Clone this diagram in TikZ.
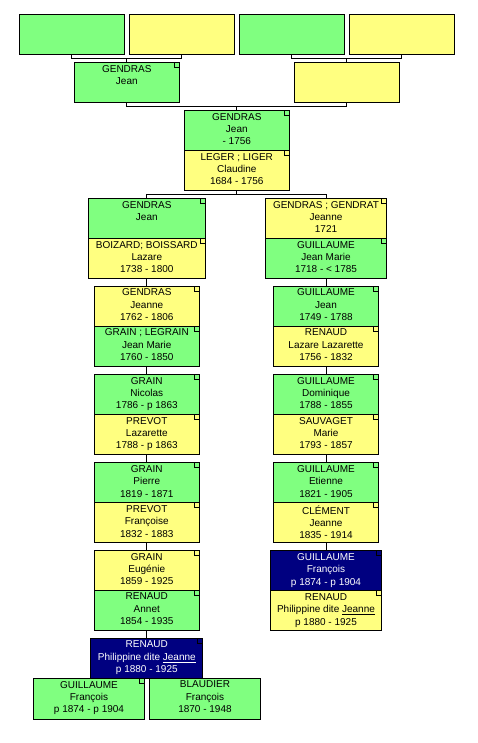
\documentclass[tikz,border=0pt]{standalone}
\usepackage{fontspec}
\setmainfont{Liberation Sans}
\usetikzlibrary{positioning}
\definecolor{mgreen}{RGB}{128,255,128}
\definecolor{fyellow}{RGB}{255,255,128}
\definecolor{selnavy}{RGB}{0,0,128}
\newcommand\persfont{\fontsize{10}{12.4}\selectfont}

\begin{document}
\begin{tikzpicture}[x=1pt,y=-1pt,line width=1pt,
  pbox/.style={draw,outer sep=0pt,inner sep=0pt,minimum width=105pt,minimum height=40pt,anchor=north},
  male/.style={pbox,fill=mgreen},
  female/.style={pbox,fill=fyellow},
  selected/.style={pbox,fill=selnavy},
  who/.style={anchor=north,yshift=-2.3pt,align=center,inner sep=0pt,font=\persfont,execute at begin node=\strut}]
  \useasboundingbox (0,0) rectangle (477,743);
  % ---------------- great-grandparents ----------------
  \node[male] (a1) at (71.8,14.3) {};
  \node[female] (a2) at (181.8,14.3) {};
  \node[male] (a3) at (291.8,14.3) {};
  \node[female] (a4) at (401.8,14.3) {};
  \node[male] (b1) at (126.8,62.3) {};
  \node[female] (b2) at (346.8,62.3) {};
  \node[who] (b1-t) at (b1.north) {GENDRAS\\Jean};
  % ---------------- couple at the top ----------------
  \node[male] (c1) at (236.8,110.3) {};
  \node[female,below=0pt of c1] (c2) {};
  \node[who] (c1-t) at (c1.north) {GENDRAS\\Jean\\- 1756};
  \node[who] (c2-t) at (c2.north) {LEGER ; LIGER\\Claudine\\1684 - 1756};
  % ---------------- left line ----------------
  \node[male,minimum width=116.4pt] (l1a) at (146.8,198.3) {};
  \node[female,minimum width=116.4pt,below=0pt of l1a] (l1b) {};
  \node[who] (l1a-t) at (l1a.north) {GENDRAS\\Jean};
  \node[who] (l1b-t) at (l1b.north) {BOIZARD; BOISSARD\\Lazare\\1738 - 1800};
  \node[female] (l2a) at (146.8,286) {};
  \node[male,below=0pt of l2a] (l2b) {};
  \node[who] (l2a-t) at (l2a.north) {GENDRAS\\Jeanne\\1762 - 1806};
  \node[who] (l2b-t) at (l2b.north) {GRAIN ; LEGRAIN\\Jean Marie\\1760 - 1850};
  \node[male] (l3a) at (146.8,374.3) {};
  \node[female,below=0pt of l3a] (l3b) {};
  \node[who] (l3a-t) at (l3a.north) {GRAIN\\Nicolas\\1786 - p 1863};
  \node[who] (l3b-t) at (l3b.north) {PREVOT\\Lazarette\\1788 - p 1863};
  \node[male] (l4a) at (146.8,462.7) {};
  \node[female,below=0pt of l4a] (l4b) {};
  \node[who] (l4a-t) at (l4a.north) {GRAIN\\Pierre\\1819 - 1871};
  \node[who] (l4b-t) at (l4b.north) {PREVOT\\Françoise\\1832 - 1883};
  \node[female] (l5a) at (146.8,550.3) {};
  \node[male,below=0pt of l5a] (l5b) {};
  \node[who] (l5a-t) at (l5a.north) {GRAIN\\Eugénie\\1859 - 1925};
  \node[who] (l5b-t) at (l5b.north) {RENAUD\\Annet\\1854 - 1935};
  % ---------------- right line ----------------
  \node[female,minimum width=121pt] (r1a) at (326,198.3) {};
  \node[male,minimum width=121pt,below=0pt of r1a] (r1b) {};
  \node[who] (r1a-t) at (r1a.north) {GENDRAS ; GENDRAT\\Jeanne\\1721};
  \node[who] (r1b-t) at (r1b.north) {GUILLAUME\\Jean Marie\\1718 - < 1785};
  \node[male] (r2a) at (326,286) {};
  \node[female,below=0pt of r2a] (r2b) {};
  \node[who] (r2a-t) at (r2a.north) {GUILLAUME\\Jean\\1749 - 1788};
  \node[who] (r2b-t) at (r2b.north) {RENAUD\\Lazare Lazarette\\1756 - 1832};
  \node[male] (r3a) at (326,374.3) {};
  \node[female,below=0pt of r3a] (r3b) {};
  \node[who] (r3a-t) at (r3a.north) {GUILLAUME\\Dominique\\1788 - 1855};
  \node[who] (r3b-t) at (r3b.north) {SAUVAGET\\Marie\\1793 - 1857};
  \node[male] (r4a) at (326,462.7) {};
  \node[female,below=0pt of r4a] (r4b) {};
  \node[who] (r4a-t) at (r4a.north) {GUILLAUME\\Etienne\\1821 - 1905};
  \node[who] (r4b-t) at (r4b.north) {CLÉMENT\\Jeanne\\1835 - 1914};
  \node[selected,minimum width=110.3pt] (r5a) at (326,550.6) {};
  \node[female,minimum width=110.3pt,below=0pt of r5a] (r5b) {};
  \node[who,text=white] (r5a-t) at (r5a.north) {GUILLAUME\\François\\p 1874 - p 1904};
  \node[who] (r5b-t) at (r5b.north) {RENAUD\\Philippine dite \underline{Jeanne}\\p 1880 - 1925};
  % ---------------- the selected person and spouses ----------------
  \node[selected,minimum width=111.7pt] (sel) at (146.8,638.3) {};
  \node[who,text=white] (sel-t) at (sel.north) {RENAUD\\Philippine dite \underline{Jeanne}\\p 1880 - 1925};
  \node[male,minimum width=111.4pt,minimum height=41pt] (s1) at (89,678.3) {};
  \node[male,minimum width=111.4pt,minimum height=41pt] (s2) at (205,678.3) {};
  \node[who] (s1-t) at (s1.north) {GUILLAUME\\François\\p 1874 - p 1904};
  \node[who] (s2-t) at (s2.north) {BLAUDIER\\François\\1870 - 1948};
  % corner marks
  \foreach \n in {b1,c1,c2,l1a,l1b,l2a,l2b,l3a,l3b,l4a,l4b,l5a,l5b,
                  r1a,r1b,r2a,r2b,r3a,r3b,r4a,r4b,r5a,r5b,sel,s1}
    \draw (\n.north east) ++(-5,0) |- ++(5,5);
  % ---------------- links ----------------
  \draw (a1.south) -- ++(0,4) -| (a2.south);
  \draw (b1.north) -- ++(0,-4);
  \draw (a3.south) -- ++(0,4) -| (a4.south);
  \draw (b2.north) -- ++(0,-4);
  \draw (b1.south) -- ++(0,4) -| (b2.south);
  \draw (c1.north) -- ++(0,-4);
  \draw (c2.south) -- ++(0,4);
  \draw (l1a.north) -- ++(0,-4) -| (r1a.north);
  \draw (l1b.south) -- (l2a.north);
  \draw (l2b.south) -- (l3a.north);
  \draw (l3b.south) -- (l4a.north);
  \draw (l4b.south) -- (l5a.north);
  \draw (l5b.south) -- (sel.north);
  \draw (r1b.south) -- (r2a.north);
  \draw (r2b.south) -- (r3a.north);
  \draw (r3b.south) -- (r4a.north);
  \draw (r4b.south) -- (r5a.north);
\end{tikzpicture}
\end{document}
